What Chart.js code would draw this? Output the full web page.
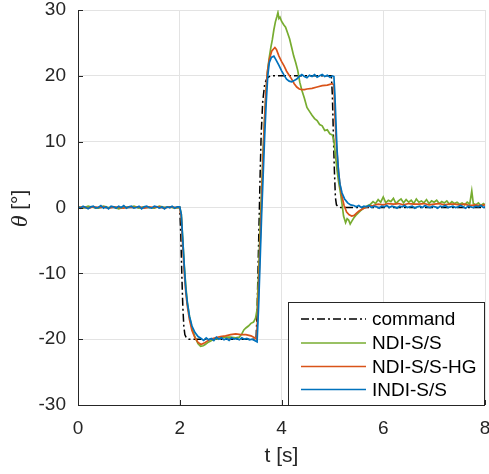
<!DOCTYPE html>
<html>
<head>
<meta charset="utf-8">
<script src="https://cdn.jsdelivr.net/npm/chart.js@4"></script>
<style>
  html, body { margin: 0; padding: 0; background: #fff; }
  #wrap { width: 489px; height: 474px; }
</style>
</head>
<body>
<div id="wrap"><canvas id="myChart" width="489" height="474"></canvas></div>
<script>
// series labels
const seriesNames = ['command', 'NDI-S/S', 'NDI-S/S-HG', 'INDI-S/S'];

// command (reference)
const cmdT = [0, 2.0, 2.02, 2.04, 2.06, 2.08, 2.10, 2.13, 2.18, 3.50, 3.52, 3.54, 3.56, 3.58, 3.60, 3.63, 3.67, 3.72, 3.78,
  4.98, 5.00, 5.02, 5.04, 5.06, 5.08, 5.12, 5.16, 8];
const cmdV = [0, 0, -4, -10, -15, -18, -19.3, -19.8, -20, -20, -16, -9, -2, 5, 11, 16, 18.8, 19.7, 20,
  20, 17, 11, 5.5, 1.5, 0.4, 0.1, 0, 0];

// NDI-S/S (green)
const ndiT = [0, 0.1, 0.2, 0.3, 0.4, 0.5, 0.6, 0.7, 0.8, 0.9, 1.0, 1.1, 1.2, 1.3, 1.4, 1.5, 1.6, 1.7, 1.8, 1.9, 2.0,
  2.03, 2.06, 2.09, 2.12, 2.15, 2.19, 2.24, 2.3, 2.36, 2.41, 2.46, 2.5, 2.55, 2.6, 2.65, 2.7, 2.8, 2.9, 3.0, 3.1, 3.17,
  3.22, 3.26, 3.3, 3.35, 3.4, 3.45, 3.49, 3.52,
  3.55, 3.58, 3.61, 3.64, 3.67, 3.70, 3.73, 3.76, 3.79, 3.82, 3.85, 3.88, 3.91, 3.93, 3.95, 3.97, 4.0, 4.04, 4.08,
  4.12, 4.16, 4.2, 4.24, 4.28, 4.32, 4.36, 4.4, 4.45, 4.5, 4.55, 4.6, 4.65, 4.7, 4.75, 4.8, 4.85, 4.9, 4.95, 5.0, 5.03,
  5.06, 5.09, 5.12, 5.16, 5.19, 5.22, 5.26, 5.29, 5.32, 5.35, 5.38, 5.42, 5.46, 5.5, 5.55, 5.6, 5.65, 5.7,
  5.75, 5.8, 5.85, 5.9, 5.95, 6.0, 6.05, 6.1, 6.15, 6.2, 6.25, 6.3, 6.35, 6.4, 6.45, 6.5, 6.55, 6.6, 6.65, 6.7, 6.75,
  6.8, 6.85, 6.9, 6.95, 7.0, 7.05, 7.1, 7.15, 7.2, 7.25, 7.3, 7.35, 7.4, 7.45, 7.5, 7.55, 7.6, 7.65, 7.7, 7.74, 7.77,
  7.82, 7.87, 7.92, 7.97, 8.0];
const ndiV = [0.1, -0.1, 0.2, 0, -0.1, 0.2, 0, 0.1, -0.2, 0.1, 0, 0.2, -0.1, 0.1, 0, -0.1, 0.2, 0, 0.1, -0.1, 0,
  -1, -5, -9, -12, -14.5, -16.5, -18.3, -19.7, -20.7, -21.1, -21.0, -20.8, -20.5, -20.3, -20.1, -20.0, -19.8, -19.7, -19.7, -19.8, -19.7,
  -19.2, -18.6, -18.3, -18.0, -17.6, -17.4, -16.8, -15.5,
  -10, -3, 3, 9, 14, 18, 21, 22.8, 24.3, 25.5, 27, 28.2, 29.0, 29.6, 28.7, 28.9, 28.3, 27.8, 27.4,
  26.5, 25.6, 24.3, 23.0, 22.0, 20.8, 19.0, 17.8, 16.6, 15.2, 14.6, 14.0, 13.5, 13.2, 12.6, 12.4, 11.7, 11.8, 11.2, 11.0, 10.2,
  8, 5.8, 4, 2.2, 0.5, -1.3, -2.3, -1.7, -1.9, -2.5, -2.1, -1.6, -1.2, -0.9, -0.5, -0.2, 0.1, 0.3,
  0.5, 0.9, 0.6, 1.2, 0.8, 1.6, 0.7, 1.1, 0.9, 1.4, 0.6, 1.0, 1.3, 0.7, 1.2, 0.8, 1.1, 0.6, 1.3, 0.8, 1.0,
  0.7, 1.2, 0.6, 1.0, 0.8, 1.1, 0.6, 0.9, 0.7, 1.0, 0.5, 0.9, 0.6, 0.8, 0.5, 0.7, 0.4, 0.8, 0.5, 2.5, 0.6,
  0.4, 0.7, 0.3, 0.6, 0.4];

// NDI-S/S-HG (orange)
const hgT = [0, 0.1, 0.2, 0.3, 0.4, 0.5, 0.6, 0.7, 0.8, 0.9, 1.0, 1.1, 1.2, 1.3, 1.4, 1.5, 1.6, 1.7, 1.8, 1.9, 2.0,
  2.03, 2.06, 2.09, 2.12, 2.15, 2.19, 2.24, 2.3, 2.36, 2.42, 2.48, 2.54, 2.6, 2.7, 2.8, 2.9, 3.0, 3.1, 3.2, 3.3, 3.4, 3.47, 3.51,
  3.54, 3.57, 3.60, 3.63, 3.66, 3.69, 3.72, 3.76, 3.81, 3.87, 3.9, 3.95, 4.0, 4.05, 4.1, 4.15, 4.2, 4.25, 4.3, 4.35,
  4.4, 4.45, 4.5, 4.6, 4.7, 4.8, 4.9, 5.0, 5.03,
  5.05, 5.08, 5.11, 5.14, 5.18, 5.23, 5.28, 5.33, 5.38, 5.43, 5.48, 5.53, 5.6, 5.66, 5.72, 5.8, 5.9, 6.0, 6.1, 6.2,
  6.3, 6.4, 6.5, 6.6, 6.7, 6.8, 6.9, 7.0, 7.1, 7.2, 7.3, 7.4, 7.5, 7.6, 7.7, 7.8, 7.9, 8.0];
const hgV = [0, 0.1, -0.1, 0.1, 0, 0.1, -0.1, 0.1, 0, -0.1, 0.1, 0, 0.1, -0.1, 0.1, 0, 0.1, -0.1, 0.1, 0, 0,
  -1.5, -6, -10, -13, -15, -17, -18.7, -19.8, -20.5, -20.8, -20.6, -20.3, -20.0, -19.8, -19.6, -19.5, -19.3, -19.2, -19.3, -19.3, -19.5, -19.8, -20.0,
  -15, -8, -1, 6, 12, 17, 20.5, 22.5, 23.8, 24.3, 24.0, 23.0, 22.2, 21.5, 20.7, 20.1, 19.5, 18.8, 18.3, 18.0,
  17.9, 17.9, 18.0, 18.1, 18.3, 18.5, 18.6, 18.8, 18.6,
  14, 9.5, 6.5, 4, 2, 0.3, -0.7, -1.1, -1.3, -1.2, -0.8, -0.5, -0.2, 0, 0.2, 0.3, 0.5, 0.4, 0.6, 0.5,
  0.6, 0.4, 0.6, 0.5, 0.5, 0.6, 0.4, 0.5, 0.6, 0.4, 0.5, 0.5, 0.4, 0.5, 0.3, 0.4, 0.3, 0.4];

// INDI-S/S (blue)
const indiT = [0, 0.05, 0.1, 0.15, 0.2, 0.25, 0.3, 0.35, 0.4, 0.45, 0.5, 0.55, 0.6, 0.65, 0.7, 0.75, 0.8, 0.85, 0.9, 0.95,
  1.0, 1.05, 1.1, 1.15, 1.2, 1.25, 1.3, 1.35, 1.4, 1.45, 1.5, 1.55, 1.6, 1.65, 1.7, 1.75, 1.8, 1.85, 1.9, 1.95, 2.0,
  2.03, 2.06, 2.09, 2.12, 2.15, 2.19, 2.24, 2.3, 2.36, 2.42,
  2.47, 2.52, 2.57, 2.62, 2.67, 2.72, 2.77, 2.82, 2.87, 2.92, 2.97, 3.02, 3.07, 3.12, 3.17, 3.22, 3.27, 3.32, 3.37, 3.42, 3.47, 3.52,
  3.55, 3.58, 3.61, 3.64, 3.67, 3.70, 3.73, 3.76, 3.80, 3.85, 3.90, 3.95, 4.0, 4.05, 4.1, 4.15, 4.2, 4.25, 4.3, 4.35,
  4.4, 4.45, 4.5, 4.55, 4.6, 4.65, 4.7, 4.75, 4.8, 4.85, 4.9, 4.95, 5.0, 5.03,
  5.05, 5.07, 5.09, 5.12, 5.15, 5.19, 5.24, 5.3, 5.36, 5.42,
  5.47, 5.52, 5.57, 5.62, 5.67, 5.72, 5.77, 5.82, 5.87, 5.92, 5.97, 6.02, 6.07, 6.12, 6.17, 6.22, 6.27, 6.32, 6.37, 6.42,
  6.47, 6.52, 6.57, 6.62, 6.67, 6.72, 6.77, 6.82, 6.87, 6.92, 6.97, 7.02, 7.07, 7.12, 7.17, 7.22, 7.27, 7.32, 7.37, 7.42,
  7.47, 7.52, 7.57, 7.62, 7.67, 7.72, 7.77, 7.82, 7.87, 7.92, 7.97, 8.0];
const indiV = [0.1, -0.1, 0.2, 0, -0.2, 0.1, 0.2, -0.1, 0, 0.3, -0.1, 0.1, -0.2, 0.2, 0.1, -0.1, 0.2, 0, 0.3, -0.1,
  0.1, 0.2, -0.1, 0, 0.2, -0.2, 0.1, 0.2, 0, -0.1, 0.2, 0.1, -0.1, 0.1, -0.2, 0.1, 0, 0.2, -0.1, 0.1, 0.1,
  -1, -5, -9, -12.5, -14.5, -16.5, -18, -19, -19.6, -19.9,
  -20.2, -19.8, -20.1, -19.9, -20.2, -19.7, -20.0, -19.8, -20.1, -19.9, -20.2, -19.8, -20.0, -19.9, -20.1, -19.8, -20.0, -19.9, -20.1, -20.0, -20.2, -20.4,
  -15, -8, -1, 5, 11, 16, 20, 22, 22.8, 23.0, 22.3, 21.6, 20.8, 20.1, 19.5, 19.2, 19.1, 19.3, 19.5, 19.9,
  20.2, 19.9, 19.7, 20.1, 19.9, 20.2, 19.8, 20.0, 20.2, 19.9, 20.1, 19.8, 20.0, 19.9,
  17, 13, 9, 5.5, 3.5, 2.2, 1.3, 0.7, 0.4, 0.3,
  0.1, 0.3, 0.0, 0.2, 0.1, 0.3, 0.0, 0.2, 0.1, -0.1, 0.2, 0.1, 0.3, 0.0, 0.2, 0.1, -0.1, 0.2, 0.1, 0.3,
  0.0, 0.1, 0.2, -0.1, 0.1, 0.2, 0.0, 0.3, 0.1, 0.0, 0.2, 0.1, -0.1, 0.2, 0.1, 0.3, 0.0, 0.1, 0.2, 0.0,
  0.1, 0.3, 0.1, -0.1, 0.2, 0.1, 0.0, 0.2, 0.1, 0.3, 0.0, 0.1];

const xTicks = [0, 2, 4, 6, 8];
const yTicks = [-30, -20, -10, 0, 10, 20, 30];

const colors = ['#000000', '#77AC30', '#D95319', '#0072BD'];
const FONT = '"Liberation Sans", Arial, sans-serif';
const SERIF_IT = 'italic 24px "Liberation Serif", "DejaVu Serif", serif';

const pts = (t, v) => t.map((x, i) => ({ x: x, y: v[i] }));

// MATLAB-like axes: inward ticks, y label with italic theta, boxed legend
const axesPlugin = {
  id: 'axesPlugin',
  afterDraw(chart) {
    const ctx = chart.ctx;
    const a = chart.chartArea;
    const xs = chart.scales.x, ys = chart.scales.y;
    ctx.save();
    ctx.strokeStyle = '#262626';
    ctx.lineWidth = 1;
    ctx.beginPath();
    ctx.moveTo(a.left + 0.5, a.top);
    ctx.lineTo(a.left + 0.5, a.bottom + 0.5);
    ctx.lineTo(a.right, a.bottom + 0.5);
    xTicks.forEach(v => {
      const px = Math.round(xs.getPixelForValue(v)) + 0.5;
      ctx.moveTo(px, a.bottom);
      ctx.lineTo(px, a.bottom - 5);
    });
    yTicks.forEach(v => {
      const py = Math.round(ys.getPixelForValue(v)) + 0.5;
      ctx.moveTo(a.left, py);
      ctx.lineTo(a.left + 5, py);
    });
    ctx.stroke();

    // y axis title
    ctx.translate(20, (a.top + a.bottom) / 2 + 1);
    ctx.rotate(-Math.PI / 2);
    ctx.fillStyle = '#262626';
    ctx.textBaseline = 'middle';
    ctx.font = SERIF_IT;
    const th = '\u03B8';
    const rest = ' [\u00B0]';
    const w1 = ctx.measureText(th).width;
    ctx.font = '21px ' + FONT;
    const w2 = ctx.measureText(rest).width;
    let x0 = -(w1 + w2) / 2;
    ctx.font = SERIF_IT;
    ctx.textAlign = 'left';
    ctx.fillText(th, x0, 1);
    ctx.font = '21px ' + FONT;
    ctx.fillText(rest, x0 + w1, 0);
    ctx.restore();

    // legend
    ctx.save();
    const lx = 288.5, ly = 302.5, lr = a.right - 0.5, lb = a.bottom + 0.5;
    ctx.fillStyle = '#fff';
    ctx.fillRect(lx, ly, lr - lx, lb - ly);
    ctx.strokeStyle = '#262626';
    ctx.lineWidth = 1;
    ctx.strokeRect(lx, ly, lr - lx, lb - ly);
    const rows = [319, 343, 366.5, 389.5];
    chart.data.datasets.forEach((ds, i) => {
      const y = rows[i];
      ctx.beginPath();
      ctx.strokeStyle = ds.borderColor;
      ctx.lineWidth = 1.5;
      ctx.setLineDash(ds.borderDash || []);
      ctx.moveTo(301, y);
      ctx.lineTo(366, y);
      ctx.stroke();
      ctx.setLineDash([]);
      ctx.fillStyle = '#000';
      ctx.font = '19px ' + FONT;
      ctx.textBaseline = 'middle';
      ctx.textAlign = 'left';
      ctx.fillText(ds.label, 372, y + 1);
    });
    ctx.restore();
  }
};

const ctx = document.getElementById('myChart').getContext('2d');
const myChart = new Chart(ctx, {
  type: 'line',
  data: {
    datasets: [
      { label: seriesNames[0], data: pts(cmdT, cmdV), borderColor: colors[0], borderDash: [8, 3, 2, 3], borderWidth: 1.5, order: 4 },
      { label: seriesNames[1], data: pts(ndiT, ndiV), borderColor: colors[1], borderWidth: 1.7, order: 3 },
      { label: seriesNames[2], data: pts(hgT, hgV), borderColor: colors[2], borderWidth: 1.7, order: 2 },
      { label: seriesNames[3], data: pts(indiT, indiV), borderColor: colors[3], borderWidth: 1.7, order: 1 }
    ]
  },
  options: {
    responsive: false,
    animation: false,
    events: [],
    layout: { padding: { left: 0, right: 0, top: 0, bottom: 0 } },
    elements: { point: { radius: 0 }, line: { tension: 0, fill: false } },
    plugins: { legend: { display: false }, tooltip: { enabled: false } },
    scales: {
      x: {
        type: 'linear', min: 0, max: 8,
        afterBuildTicks: s => { s.ticks = xTicks.map(v => ({ value: v })); },
        afterFit: s => { s.height = 69; s.paddingLeft = 0; s.paddingRight = 4; },
        grid: { color: '#e3e3e3', drawTicks: false },
        border: { display: false },
        ticks: { color: '#262626', font: { family: FONT, size: 19 }, padding: 12, maxRotation: 0 },
        title: { display: true, text: 't [s]', color: '#262626', font: { family: FONT, size: 21 }, padding: { top: 0, bottom: 5 } }
      },
      y: {
        type: 'linear', min: -30, max: 30,
        afterBuildTicks: s => { s.ticks = yTicks.map(v => ({ value: v })); },
        afterFit: s => { s.width = 78; s.paddingTop = 10; s.paddingBottom = 0; },
        grid: { color: '#e3e3e3', drawTicks: false },
        border: { display: false },
        ticks: { color: '#262626', font: { family: FONT, size: 19 }, padding: 12 }
      }
    }
  },
  plugins: [axesPlugin]
});
</script>
</body>
</html>
